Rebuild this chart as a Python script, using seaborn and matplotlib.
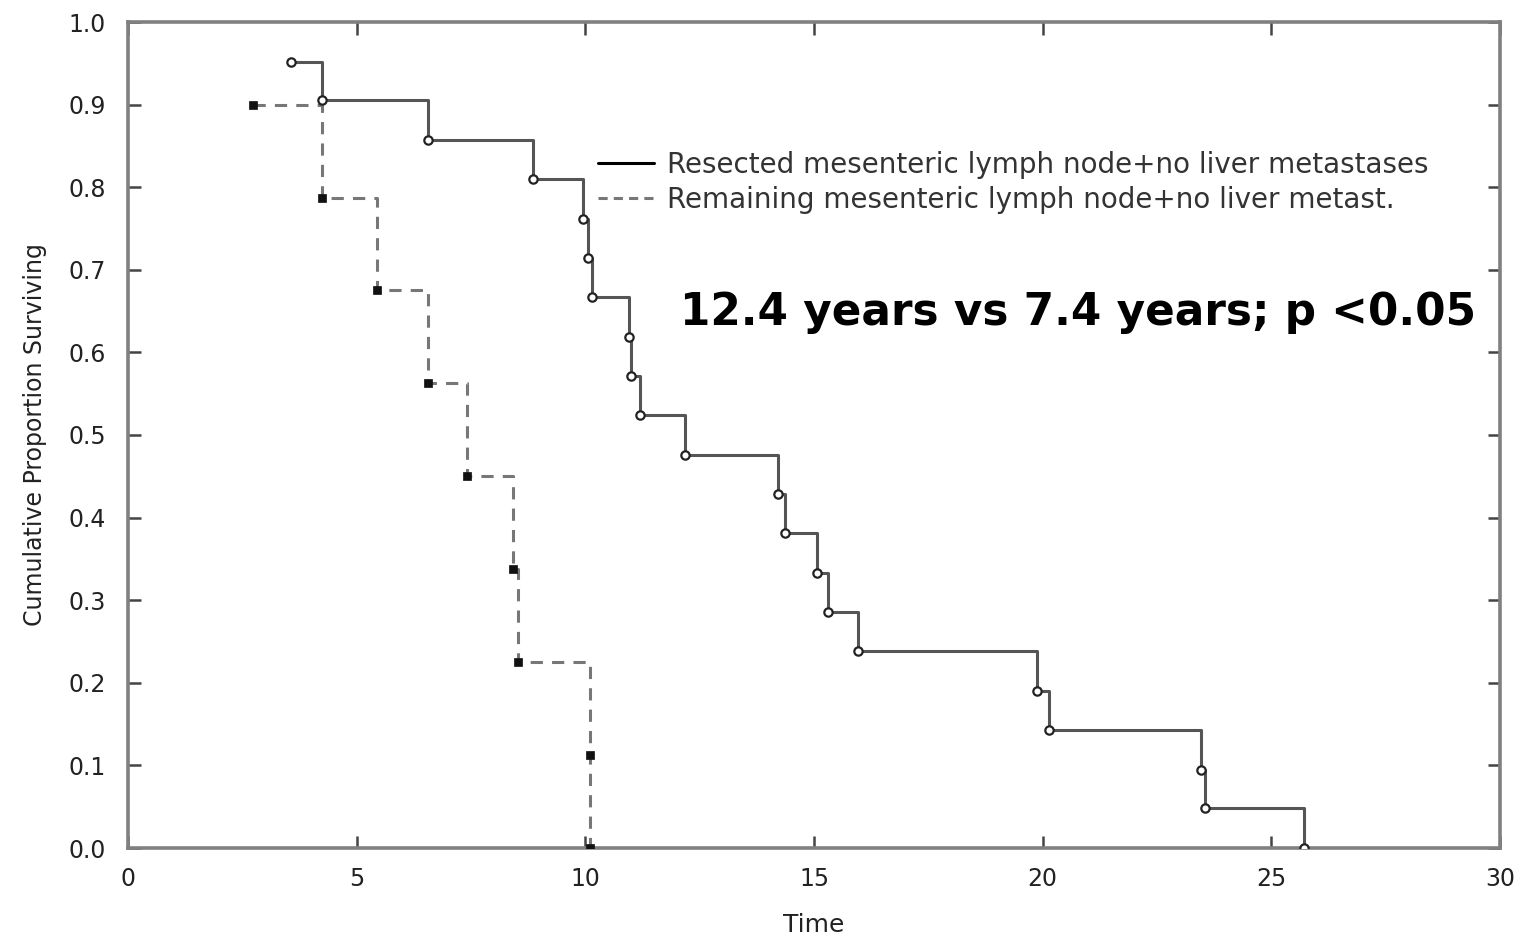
import matplotlib
matplotlib.use("Agg")
import matplotlib.pyplot as plt
import seaborn as sns
import pandas as pd
from matplotlib.lines import Line2D

# ---- data ----
resected_time = [3.56, 4.24, 6.56, 8.86, 9.95, 10.05, 10.15, 10.95, 11.0, 11.2,
                 12.18, 14.21, 14.36, 15.07, 15.3, 15.96, 19.88, 20.14, 23.46, 23.55, 25.72]
resected_surv = [0.952, 0.905, 0.857, 0.810, 0.762, 0.714, 0.667, 0.619, 0.571, 0.524,
                 0.476, 0.429, 0.381, 0.333, 0.286, 0.238, 0.190, 0.143, 0.095, 0.048, 0.0]

remaining_time = [2.73, 4.24, 5.44, 6.56, 7.41, 8.42, 8.53, 10.1, 10.1]
remaining_surv = [0.9, 0.7875, 0.675, 0.5625, 0.45, 0.3375, 0.225, 0.1125, 0.0]

series_labels = ["Resected mesenteric lymph node+no liver metastases",
                 "Remaining mesenteric lymph node+no liver metast."]
x_ticks = [0, 5, 10, 15, 20, 25, 30]
y_ticks = [0.0, 0.1, 0.2, 0.3, 0.4, 0.5, 0.6, 0.7, 0.8, 0.9, 1.0]
annotation = "12.4 years vs 7.4 years; p <0.05"

df_res = pd.DataFrame({"Time": resected_time, "Surv": resected_surv})
df_rem = pd.DataFrame({"Time": remaining_time, "Surv": remaining_surv})

sns.set_style("white")
plt.rcParams["font.family"] = ["DejaVu Sans"]

fig = plt.figure(figsize=(15.26, 9.40), dpi=100)
ax = fig.add_axes([128 / 1526, 1 - 848 / 940, 1372 / 1526, 826 / 940])

line_col = "#555555"
dash_col = "#777777"

sns.lineplot(data=df_res, x="Time", y="Surv", ax=ax, sort=False, estimator=None,
             drawstyle="steps-post", color=line_col, lw=2.2)
sns.lineplot(data=df_rem, x="Time", y="Surv", ax=ax, sort=False, estimator=None,
             drawstyle="steps-post", color=dash_col, lw=2.2, dashes=False,
             linestyle=(0, (4, 3)))
sns.scatterplot(data=df_res, x="Time", y="Surv", ax=ax, marker="o", s=36,
                facecolor="white", edgecolor="#222222", linewidth=1.6, zorder=5)
sns.scatterplot(data=df_rem, x="Time", y="Surv", ax=ax, marker="s", s=30,
                color="#111111", edgecolor="#111111", linewidth=0.5, zorder=5)

ax.set_xlim(0, 30)
ax.set_ylim(0, 1.0)
ax.set_xticks(x_ticks)
ax.set_xticklabels([str(v) for v in x_ticks])
ax.set_yticks(y_ticks)
ax.set_yticklabels([f"{v:.1f}" for v in y_ticks])

ax.tick_params(axis="both", direction="in", length=9, width=1.8, color="#444444",
               labelsize=17, labelcolor="#222222", top=True, right=True,
               bottom=True, left=True)
ax.tick_params(axis="x", pad=14)
ax.tick_params(axis="y", pad=16)
for sp in ax.spines.values():
    sp.set_visible(True)
    sp.set_color("#808080")
    sp.set_linewidth(2.6)

ax.set_xlabel("Time", fontsize=18, color="#222222", va="center")
ax.xaxis.set_label_coords(0.5, (848 - 925) / 826)
ax.set_ylabel("Cumulative Proportion Surviving", fontsize=17, color="#222222", va="center")
ax.yaxis.set_label_coords((35 - 128) / 1372, 0.5)

handles = [Line2D([], [], color="black", lw=2.2),
           Line2D([], [], color=dash_col, lw=2.2, linestyle=(0, (3, 2)))]
leg = ax.legend(handles, series_labels, loc="upper left",
                bbox_to_anchor=(598 / 1526, 1 - 151 / 940), bbox_transform=fig.transFigure,
                frameon=False, fontsize=20, handlelength=2.0, handletextpad=0.5,
                borderpad=0, borderaxespad=0, labelspacing=0.25)
for t in leg.get_texts():
    t.set_color("#333333")

ax.text(12.07, 0.648, annotation, fontsize=31.5, fontweight="bold", color="black",
        ha="left", va="center")

fig.savefig("out.png", dpi=100)
